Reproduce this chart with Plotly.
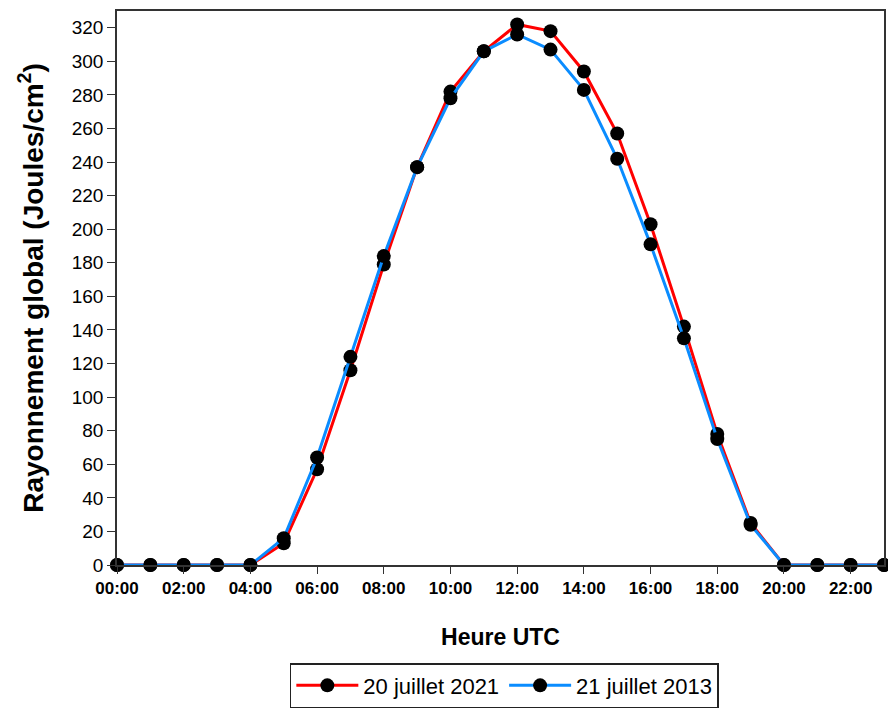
import plotly.graph_objects as go

hours = list(range(24))
tick_vals = list(range(0, 23, 2))
tick_text = [f"{h:02d}:00" for h in tick_vals]
y_ticks = list(range(0, 321, 20))

ray_2021 = [0, 0, 0, 0, 0, 13, 57, 116, 179, 237, 282, 306, 322, 318, 294, 257,
            203, 142, 78, 25, 0, 0, 0, 0]
ray_2013 = [0, 0, 0, 0, 0, 16, 64, 124, 184, 237, 278, 306, 316, 307, 283, 242,
            191, 135, 75, 24, 0, 0, 0, 0]

series = [("20 juillet 2021", ray_2021, "#ff0000"),
          ("21 juillet 2013", ray_2013, "#0a8cff")]

fig = go.Figure()
for name, vals, col in series:
    fig.add_trace(go.Scatter(
        x=hours, y=vals, name=name, mode="lines+markers",
        line=dict(color=col, width=3),
        marker=dict(color="black", size=14),
        cliponaxis=False,
    ))

fig.update_layout(
    width=888, height=715,
    margin=dict(l=117, r=2, t=11, b=150),
    paper_bgcolor="white", plot_bgcolor="white",
    font=dict(family="Liberation Sans, Arial, sans-serif", color="black"),
    showlegend=True,
    legend=dict(orientation="h", x=0.505, xanchor="center", y=-0.177, yanchor="top",
                bordercolor="#222", borderwidth=1.5, font=dict(size=22),
                itemwidth=62),
    xaxis=dict(range=[0, 23], tickvals=tick_vals, ticktext=tick_text,
               ticks="outside", ticklen=7, tickcolor="#333",
               showline=True, linecolor="#333", linewidth=1.5, mirror=True,
               showgrid=False, zeroline=False,
               tickfont=dict(size=17, family="Liberation Sans, Arial", weight="bold"),
               title=dict(text="<b>Heure UTC</b>", font=dict(size=23), standoff=32)),
    yaxis=dict(range=[0, 330], tickvals=y_ticks,
               ticks="outside", ticklen=8, tickcolor="#333",
               showline=True, linecolor="#333", linewidth=1.5, mirror=True,
               showgrid=False, zeroline=False,
               tickfont=dict(size=19),
               title=dict(text="<b>Rayonnement global (Joules/cm<sup>2</sup>)</b>",
                          font=dict(size=28), standoff=20)),
)

fig.write_html(
    "out.html",
    config={"displayModeBar": False},
    post_script="document.body.style.margin='0';document.body.style.overflow='hidden';",
)
